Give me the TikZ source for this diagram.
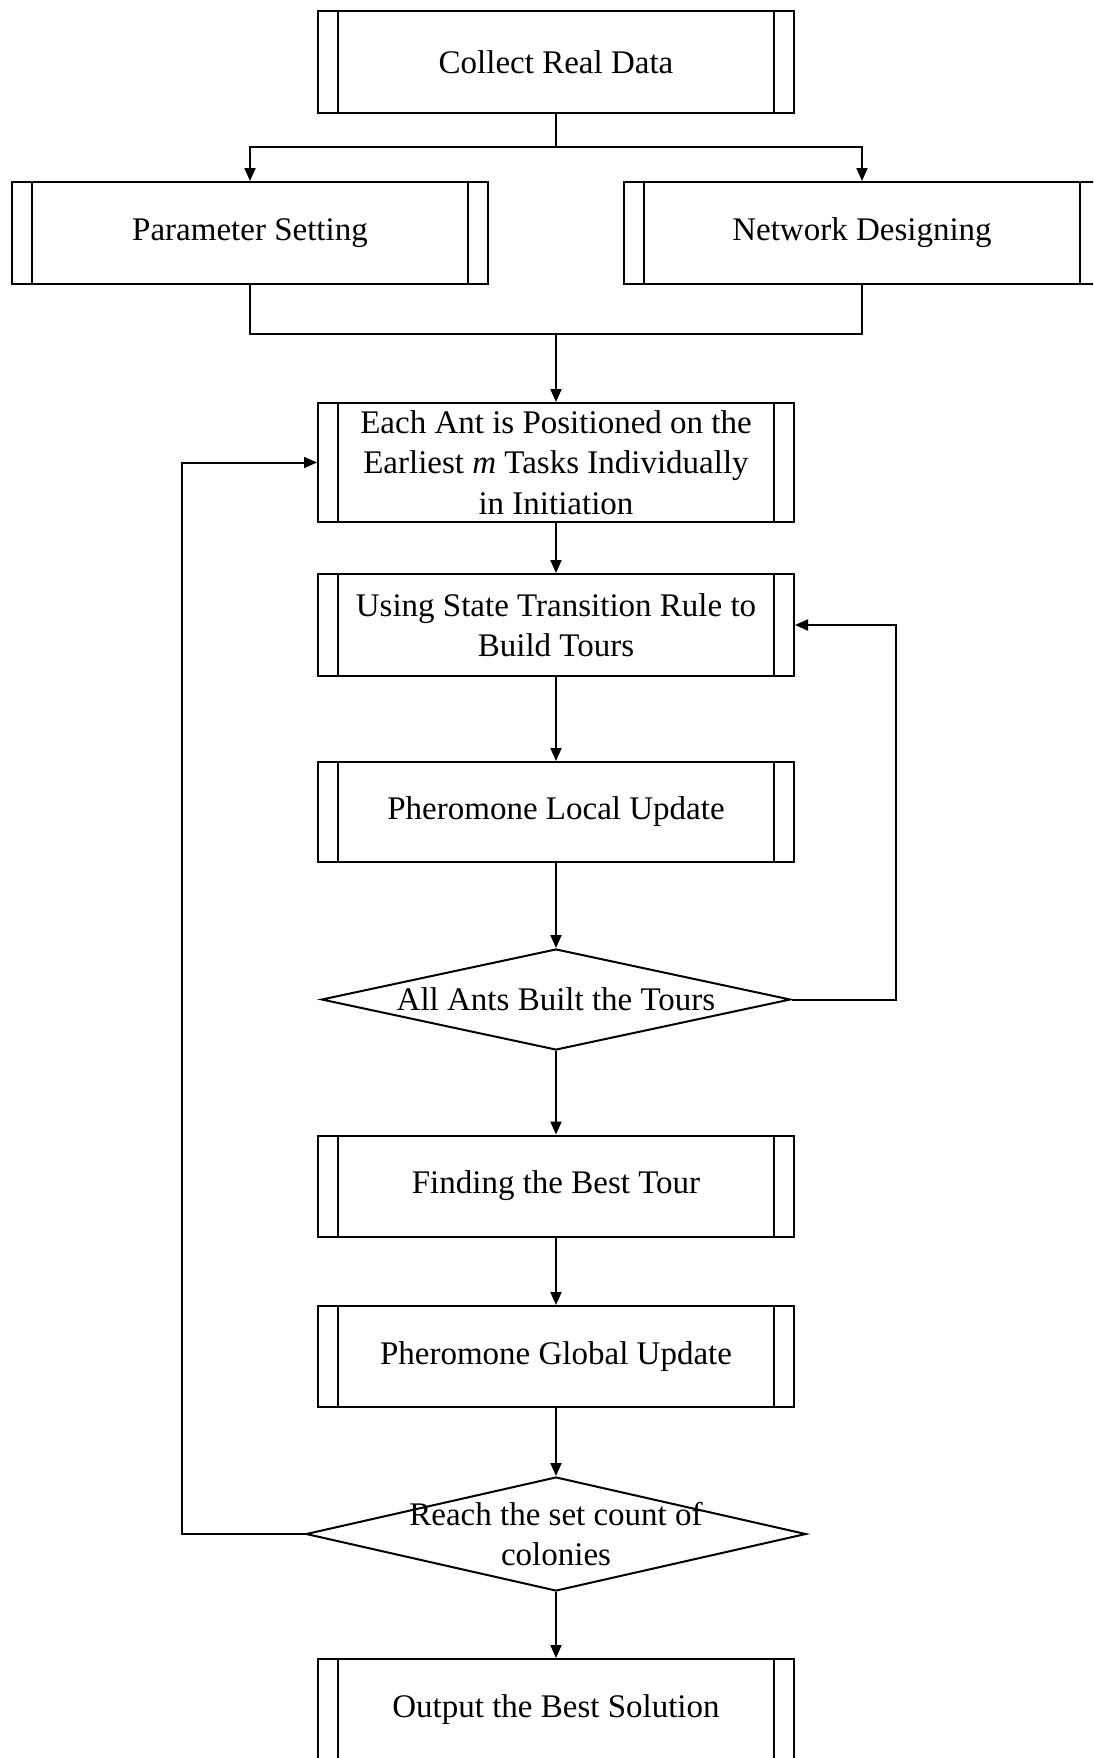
\documentclass[tikz,border=0pt]{standalone}
\usepackage{fontspec}
\setmainfont{Liberation Serif}
\usetikzlibrary{shapes.geometric,arrows.meta}
\newcommand{\flowfont}{\fontsize{33}{40.5}\selectfont}
\begin{document}
\begin{tikzpicture}[x=1pt,y=-1pt,
  proc/.style={draw, line width=2pt, minimum width=476pt, minimum height=101pt,
    inner sep=0pt, font=\flowfont, align=center,
    path picture={
      \draw[line width=2pt] ([xshift=20pt]path picture bounding box.north west) -- ([xshift=20pt]path picture bounding box.south west);
      \draw[line width=2pt] ([xshift=-20pt]path picture bounding box.north east) -- ([xshift=-20pt]path picture bounding box.south east);}},
  dec/.style={draw, diamond, line width=2pt, inner sep=0pt},
  dectext/.style={font=\flowfont, align=center, inner sep=0pt},
  conn/.style={line width=2pt},
  arr/.style={conn, -{Triangle[length=13pt,width=11pt]}},
]
\useasboundingbox (0,0) rectangle (1093,1758);
\clip (0,0) rectangle (1093,1758);
\fill[white] (0,0) rectangle (1093,1758);

\node[proc, minimum height=102pt] (collect) at (556,62) {Collect Real Data};
\node[proc, minimum height=102pt] (param) at (250,233) {Parameter Setting};
\node[proc, minimum height=102pt] (network) at (862,233) {Network Designing};
\node[proc, minimum height=119pt] (ant) at (556,462.5) {Each Ant is Positioned on the\\Earliest \textit{m} Tasks Individually\\in Initiation};
\node[proc, minimum height=102pt] (state) at (556,625) {Using State Transition Rule to\\Build Tours};
\node[proc, minimum height=100pt] (local) at (556,812) {Pheromone Local Update};
\node[dec, minimum width=469pt, minimum height=101pt] (d1) at (556,999.5) {};
\node[dectext] (d1t) at (d1.center) {All Ants Built the Tours};
\node[proc] (best) at (556,1186) {Finding the Best Tour};
\node[proc] (global) at (556,1356.5) {Pheromone Global Update};
\node[dec, minimum width=500pt, minimum height=114pt] (d2) at (556,1534) {};
\node[dectext] (d2t) at (d2.center) {Reach the set count of\\colonies};
\node[proc] (output) at (556,1709.5) {Output the Best Solution};

\coordinate (split) at (556,147);
\coordinate (merge) at (556,334);
\coordinate (rx) at (896,0);
\coordinate (lx) at (182,0);

\draw[conn] (collect.south) -- (split);
\draw[arr] (split) -| (param.north);
\draw[arr] (split) -| (network.north);
\draw[conn] (param.south) |- (merge) -| (network.south);
\draw[arr] (merge) -- (ant.north);
\draw[arr] (ant.south) -- (state.north);
\draw[arr] (state.south) -- (local.north);
\draw[arr] (local.south) -- (d1.north);
\draw[arr] (d1.east) -- (d1.east -| rx) |- (state.east);
\draw[arr] (d1.south) -- (best.north);
\draw[arr] (best.south) -- (global.north);
\draw[arr] (global.south) -- (d2.north);
\draw[arr] (d2.west) -- (d2.west -| lx) |- (ant.west);
\draw[arr] (d2.south) -- (output.north);
\end{tikzpicture}
\end{document}
